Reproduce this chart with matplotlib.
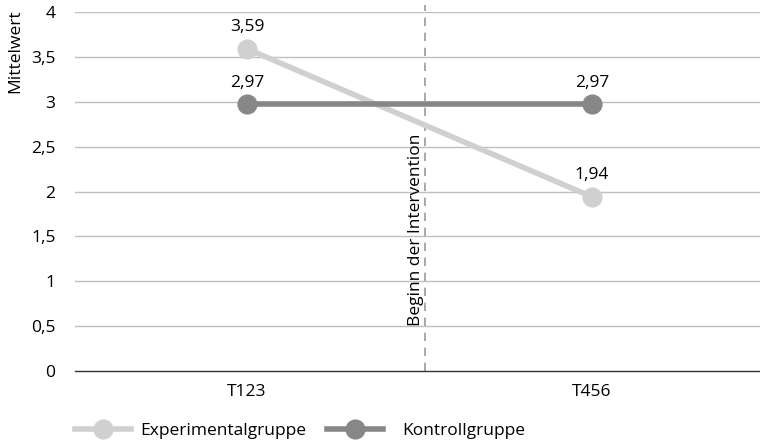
import matplotlib
matplotlib.use("Agg")
import matplotlib.pyplot as plt
from matplotlib.lines import Line2D

categories = ["T123", "T456"]
experimental = [3.59, 1.94]
kontroll = [2.97, 2.97]
series_names = ["Experimentalgruppe", "Kontrollgruppe"]
yticks = [0, 0.5, 1, 1.5, 2, 2.5, 3, 3.5, 4]
ytick_labels = ["0", "0,5", "1", "1,5", "2", "2,5", "3", "3,5", "4"]

plt.rcParams['font.family'] = ['Open Sans', 'DejaVu Sans']

c_exp = "#d0d0d0"
c_kon = "#878787"
fs = 12.5
ms = 13.5
lw = 4

fig = plt.figure(figsize=(7.6, 4.41), dpi=100)
ax = fig.add_axes([75/760, 70/441, 685/760, (371-12)/441])

x = list(range(len(categories)))
ax.set_xlim(-172/345, 513/345)
ax.set_ylim(0, 4)

for yv in yticks[1:]:
    ax.axhline(yv, color="#bfbfbf", lw=1, zorder=0)

ax.plot(x, experimental, color=c_exp, lw=lw, marker="o", ms=ms, zorder=3,
        solid_capstyle="round")
ax.plot(x, kontroll, color=c_kon, lw=lw, marker="o", ms=ms, zorder=4,
        solid_capstyle="round")

for xi, v in zip(x, experimental):
    ax.annotate(f"{v:.2f}".replace(".", ","), (xi, v), xytext=(0, 10),
                textcoords="offset points", ha="center", va="bottom", fontsize=fs)
for xi, v in zip(x, kontroll):
    ax.annotate(f"{v:.2f}".replace(".", ","), (xi, v), xytext=(0, 10),
                textcoords="offset points", ha="center", va="bottom", fontsize=fs)

xv = 0.516
ax.plot([xv, xv], [0, 4.08], color="#9a9a9a", lw=1.2, ls=(0, (5, 4)), zorder=1,
        clip_on=False)
ax.text(xv - 0.003, 1.57, "Beginn der Intervention", rotation=90, ha="right",
        va="center", fontsize=fs)

ax.set_yticks(yticks)
ax.set_yticklabels(ytick_labels, fontsize=fs)
ax.set_xticks(x)
ax.set_xticklabels(categories, fontsize=fs)
ax.tick_params(axis="y", length=0, pad=14)
ax.tick_params(axis="x", length=0, pad=9)
for s in ["top", "right", "left"]:
    ax.spines[s].set_visible(False)
ax.spines["bottom"].set_color("#333333")
ax.spines["bottom"].set_linewidth(1)

ax.set_ylabel("Mittelwert", fontsize=fs)
ax.yaxis.set_label_coords(-60/685, 0.89, transform=ax.transAxes)
ax.yaxis.label.set_va("center")
ax.yaxis.label.set_ha("center")

h1 = Line2D([0], [0], color=c_exp, lw=lw, marker="o", ms=ms)
h2 = Line2D([0], [0], color=c_kon, lw=lw, marker="o", ms=ms)
ly = 1 - 431/441
fig.legend([h1], [series_names[0]], loc="center left",
           bbox_to_anchor=(75/760, ly), frameon=False, fontsize=fs,
           handlelength=3.2, handletextpad=0.55, borderpad=0, borderaxespad=0)
fig.legend([h2], [series_names[1]], loc="center left",
           bbox_to_anchor=(327/760, ly), frameon=False, fontsize=fs,
           handlelength=3.2, handletextpad=1.15, borderpad=0, borderaxespad=0)

fig.savefig("out.png", dpi=100)
